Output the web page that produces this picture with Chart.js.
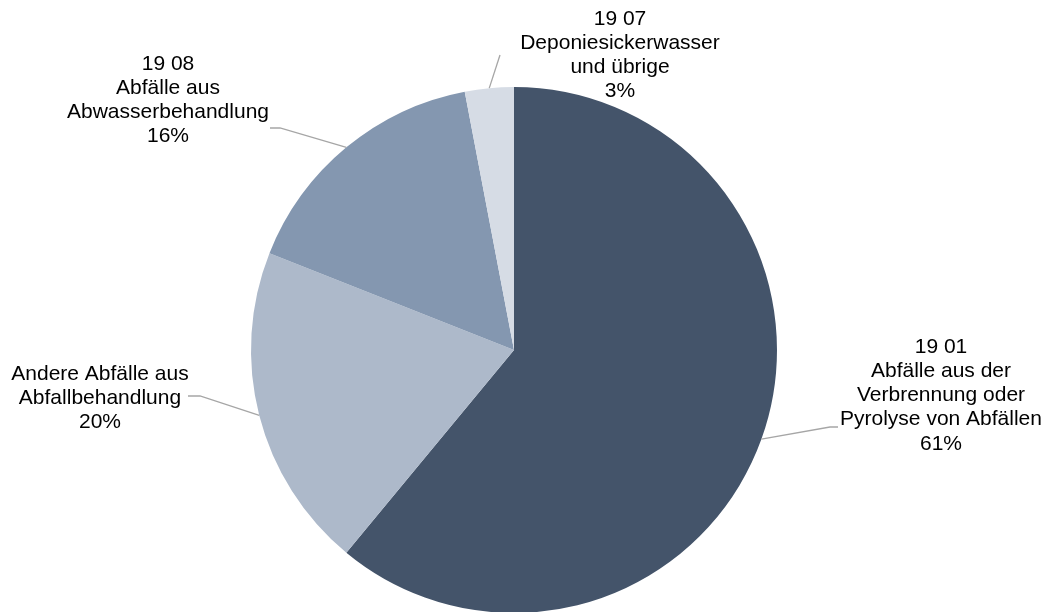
<!DOCTYPE html>
<html>
<head>
<meta charset="utf-8">
<script src="https://cdn.jsdelivr.net/npm/chart.js@4/dist/chart.umd.min.js"></script>
<style>
  html, body { margin: 0; padding: 0; background: #fff; }
  #wrap { width: 1053px; height: 612px; }
</style>
</head>
<body>
<div id="wrap"><canvas id="grafico"></canvas></div>
<script>
// Anteile der Abfallarten (Kapitel 19), im Uhrzeigersinn ab 12 Uhr
var kategorien = [
    ['19 01', 'Abfälle aus der', 'Verbrennung oder', 'Pyrolyse von Abfällen'],
    ['Andere Abfälle aus', 'Abfallbehandlung'],
    ['19 08', 'Abfälle aus', 'Abwasserbehandlung'],
    ['19 07', 'Deponiesickerwasser', 'und übrige']
];
var anteile = [61, 20, 16, 3];
var farben = ['#44546a', '#adb9ca', '#8497b0', '#d6dce5'];

// Position der Beschriftungen und Knick der Führungslinien
var beschriftungen = [
    { x: 941, y: 347, knick: [830, 427], ende: [838, 427] },
    { x: 100, y: 374, knick: [200, 396], ende: [188, 396] },
    { x: 168, y: 64, knick: [280, 128], ende: [270, 128] },
    { x: 620, y: 19, knick: [500, 55], ende: null }
];

var zeilenAbstand = 24.2;

var labelPlugin = {
    id: 'labelPlugin',
    afterDraw: function(chart) {
        var ctx = chart.ctx;
        var meta = chart.getDatasetMeta(0);
        ctx.save();
        for (var i = 0; i < meta.data.length; i++) {
            var arc = meta.data[i];
            var b = beschriftungen[i];
            var mitte = (arc.startAngle + arc.endAngle) / 2;
            var px = arc.x + Math.cos(mitte) * arc.outerRadius;
            var py = arc.y + Math.sin(mitte) * arc.outerRadius;

            // Führungslinie vom Rand des Segments zur Beschriftung
            ctx.strokeStyle = '#a6a6a6';
            ctx.lineWidth = 1.3;
            ctx.beginPath();
            ctx.moveTo(px, py);
            ctx.lineTo(b.knick[0], b.knick[1]);
            if (b.ende) ctx.lineTo(b.ende[0], b.ende[1]);
            ctx.stroke();

            // Text der Beschriftung
            var zeilen = kategorien[i].concat([anteile[i] + '%']);
            ctx.fillStyle = '#000000';
            ctx.font = '21px "Liberation Sans", Arial, sans-serif';
            ctx.textAlign = 'center';
            ctx.textBaseline = 'middle';
            for (var j = 0; j < zeilen.length; j++) {
                ctx.fillText(zeilen[j], b.x, b.y + j * zeilenAbstand);
            }
        }
        ctx.restore();
    }
};

new Chart(document.getElementById('grafico'), {
    type: 'pie',
    data: {
        labels: kategorien.map(function(k) { return k.join(' '); }),
        datasets: [{
            data: anteile,
            backgroundColor: farben,
            borderWidth: 0,
            radius: 263
        }]
    },
    options: {
        responsive: true,
        maintainAspectRatio: false,
        animation: false,
        layout: {
            padding: { top: 88, bottom: 0, left: 0, right: 25 }
        },
        plugins: {
            legend: { display: false },
            tooltip: { enabled: false }
        }
    },
    plugins: [labelPlugin]
});
</script>
</body>
</html>
